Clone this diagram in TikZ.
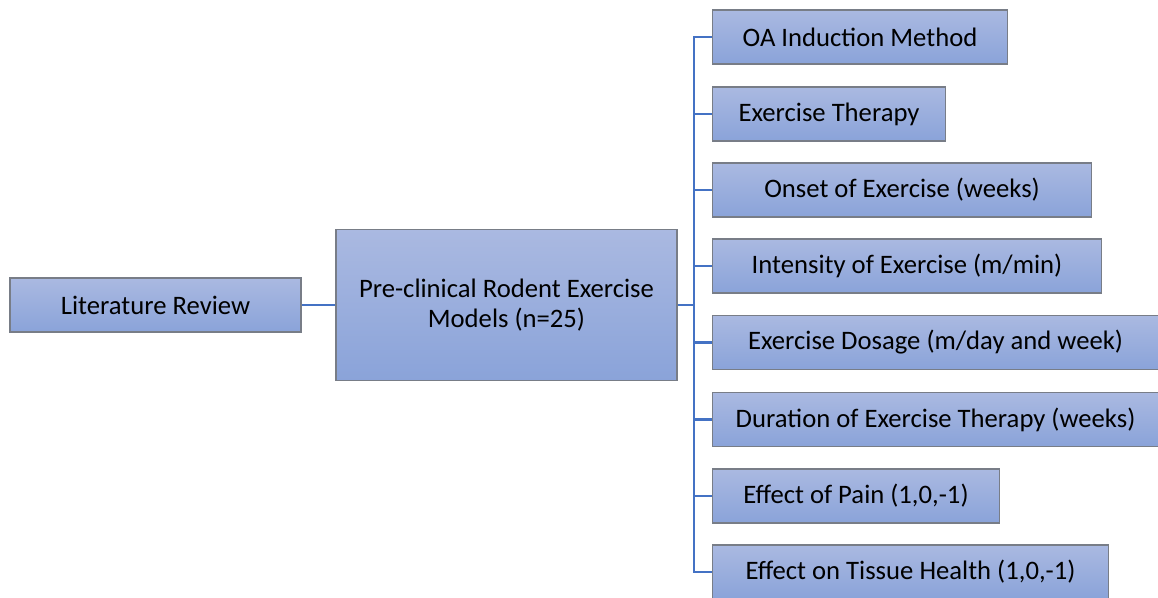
\documentclass[tikz,border=0pt]{standalone}
\usepackage{fontspec}
\setmainfont{Carlito}
\usepackage{tikz}

\definecolor{boxtop}{RGB}{170,185,225}
\definecolor{boxbot}{RGB}{138,163,217}
\definecolor{boxline}{RGB}{120,125,135}
\definecolor{linkblue}{RGB}{68,114,196}

\tikzset{
  box/.style={draw=boxline, line width=0.8pt, top color=boxtop, bottom color=boxbot,
    inner sep=0pt, minimum height=40.5pt, font=\fontsize{20}{22}\selectfont, align=center},
  link/.style={draw=linkblue, line width=2.2pt}
}

\begin{document}
\begin{tikzpicture}[x=0.75pt,y=-0.75pt]

\useasboundingbox (0,0) rectangle (1158,597);

\node[box, minimum width=218.25pt] (lit) at (155.5,305) {Literature Review};

\node[box, minimum width=255.75pt, minimum height=113.25pt] (models) at (506.5,305) {Pre-clinical Rodent Exercise\\Models (n=25)};

\node[box, anchor=west, minimum width=221.25pt] (oa) at (712,37) {OA Induction Method};
\node[box, anchor=west, minimum width=174.75pt] (therapy) at (712,114) {Exercise Therapy};
\node[box, anchor=west, minimum width=284.25pt] (onset) at (712,190) {Onset of Exercise (weeks)};
\node[box, anchor=west, minimum width=291.75pt] (intensity) at (712,266) {Intensity of Exercise (m/min)};
\node[box, anchor=west, minimum width=334.5pt] (dosage) at (712,342.5) {Exercise Dosage (m/day and week)};
\node[box, anchor=west, minimum width=334.5pt] (duration) at (712,419.5) {Duration of Exercise Therapy (weeks)};
\node[box, anchor=west, minimum width=215.25pt] (pain) at (712,496) {Effect of Pain (1,0,-1)};
\node[box, anchor=west, minimum width=297pt] (tissue) at (712,572) {Effect on Tissue Health (1,0,-1)};

\coordinate (fork) at (694,305);

\draw[link] (lit.east) -- (models.west);
\draw[link] (models.east) -- (fork);

\draw[link] (fork) |- (oa.west);
\draw[link] (fork) |- (therapy.west);
\draw[link] (fork) |- (onset.west);
\draw[link] (fork) |- (intensity.west);
\draw[link] (fork) |- (dosage.west);
\draw[link] (fork) |- (duration.west);
\draw[link] (fork) |- (pain.west);
\draw[link] (fork) |- (tissue.west);

\end{tikzpicture}
\end{document}
